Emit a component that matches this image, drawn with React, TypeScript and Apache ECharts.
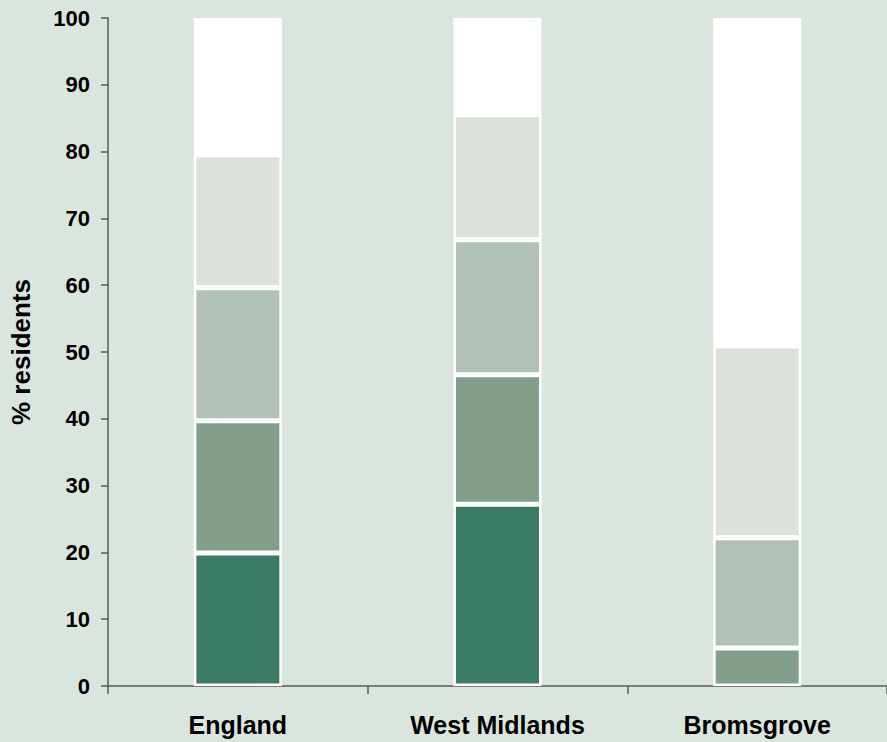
import React, { useEffect, useRef } from "react";
import * as echarts from "echarts";

const categories = ["England", "West Midlands", "Bromsgrove"];
const band1 = [19.9, 27.2, 0];
const band2 = [19.8, 19.4, 5.7];
const band3 = [19.9, 20.2, 16.5];
const band4 = [19.9, 18.7, 28.7];
const band5 = [20.5, 14.5, 49.1];
const bandColors = ["#3b7b63", "#819f8b", "#b2c1b5", "#dde1dc", "#ffffff"];
const yTicks = [0, 10, 20, 30, 40, 50, 60, 70, 80, 90, 100];

export default function App() {
  const ref = useRef<HTMLDivElement>(null);
  useEffect(() => {
    if (!ref.current) return;
    const chart = echarts.init(ref.current, null, { renderer: "svg" });
    const bands = [band1, band2, band3, band4, band5];
    const font = "'Liberation Sans', Arial, sans-serif";
    chart.setOption({
      animation: false,
      backgroundColor: "#dae6dd",
      grid: { left: 106, right: -2, top: 18, bottom: 56 },
      xAxis: {
        type: "category",
        data: categories,
        axisLine: { lineStyle: { color: "#555b55", width: 1.5 } },
        axisTick: { show: true, length: 8, lineStyle: { color: "#555b55", width: 1.5 } },
        axisLabel: {
          color: "#000",
          fontFamily: font,
          fontWeight: "bold",
          fontSize: 25,
          margin: 26,
        },
      },
      yAxis: {
        type: "value",
        min: yTicks[0],
        max: yTicks[yTicks.length - 1],
        interval: 10,
        name: "% residents",
        nameLocation: "middle",
        nameRotate: 90,
        nameGap: 74,
        nameTextStyle: {
          color: "#000",
          fontFamily: font,
          fontWeight: "bold",
          fontSize: 26,
        },
        splitLine: { show: false },
        axisLine: { show: true, lineStyle: { color: "#555b55", width: 1.5 } },
        axisTick: { show: true, length: 7, lineStyle: { color: "#555b55", width: 1.5 } },
        axisLabel: {
          color: "#000",
          fontFamily: font,
          fontWeight: "bold",
          fontSize: 22,
          margin: 18,
        },
      },
      series: bands.map((b, i) => ({
        type: "bar",
        stack: "total",
        barWidth: 88,
        data: b.map((v) => (v === 0 ? null : v)),
        itemStyle: {
          color: bandColors[i],
          borderColor: "#ffffff",
          borderWidth: 2.5,
        },
      })),
    });
    return () => chart.dispose();
  }, []);
  return (
    <div
      ref={ref}
      style={{ position: "fixed", left: 0, top: 0, width: 887, height: 742 }}
    />
  );
}
